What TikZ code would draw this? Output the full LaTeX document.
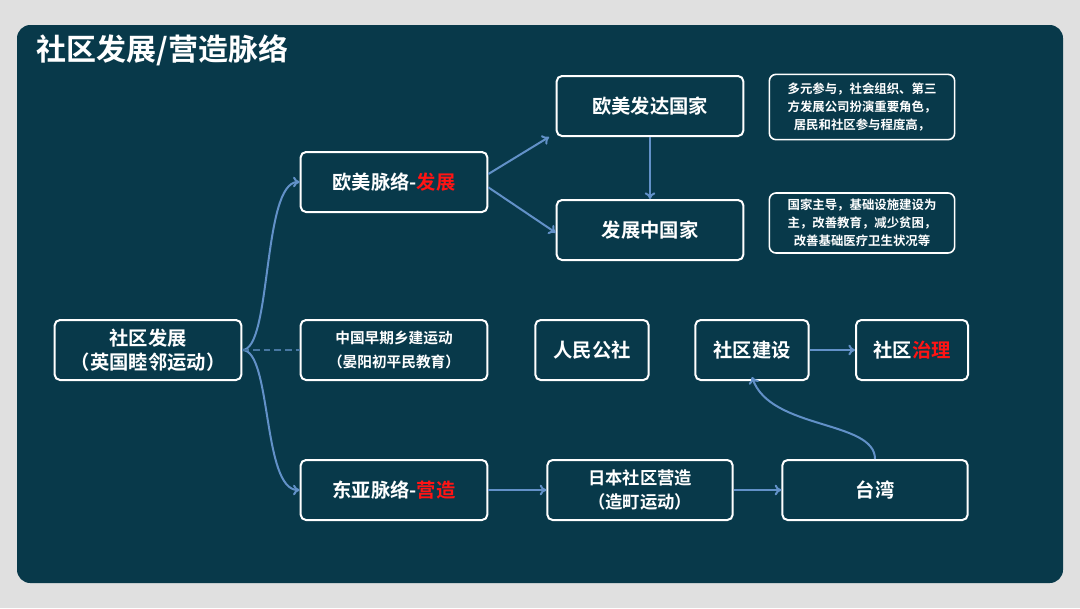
\documentclass[tikz,border=0pt]{standalone}
\usepackage{fontspec}
\setmainfont{Noto Sans CJK SC}[BoldFont={Noto Sans CJK SC Bold}]
\usetikzlibrary{arrows.meta}
\definecolor{panel}{RGB}{8,57,74}
\definecolor{outer}{RGB}{224,224,224}
\definecolor{link}{RGB}{98,145,200}
\definecolor{hot}{RGB}{255,20,20}
\tikzset{every picture/.style={line width=0.75pt}}
\tikzset{
  box/.style={draw=white,line width=1.5pt,rounded corners=4pt,text=white,font=\bfseries\fontsize{14.5}{18}\selectfont,align=center,inner sep=0pt},
  note/.style={draw=white,line width=1.2pt,rounded corners=5pt,text=white,font=\bfseries\fontsize{9.3}{13.5}\selectfont,align=center,inner sep=0pt},
  link/.style={draw=link,line width=1.5pt,-{To[length=5pt,width=8pt]}}
}
\begin{document}
\begin{tikzpicture}[x=0.75pt,y=0.75pt,yscale=-1,xscale=1]
%background
\fill [outer] (0,0) rectangle (1080,608);
\useasboundingbox (0,0) rectangle (1080,608);
\fill [panel,rounded corners=10pt] (17,25) rectangle (1063,583);
% Title
\node (title) [anchor=west,text=white,font=\bfseries\fontsize{22.5}{26}\selectfont] at (32,50) {社区发展/营造脉络};
% Boxes
\node (root) [box,minimum width=140pt,minimum height=45pt] at (148,350) {社区发展\\（英国睦邻运动）};
\node (oumei) [box,minimum width=140pt,minimum height=45pt] at (394,182) {欧美脉络-\textcolor{hot}{发展}};
\node (xiang) [box,minimum width=140pt,minimum height=45pt,font=\bfseries\fontsize{11}{18}\selectfont] at (394,350) {中国早期乡建运动\\（晏阳初平民教育）};
\node (dongya) [box,minimum width=140pt,minimum height=45pt] at (394,490) {东亚脉络-\textcolor{hot}{营造}};
\node (fada) [box,minimum width=140pt,minimum height=45pt] at (650,106) {欧美发达国家};
\node (fazhan) [box,minimum width=140pt,minimum height=45pt] at (650,230) {发展中国家};
\node (renmin) [box,minimum width=85pt,minimum height=45pt] at (592,350) {人民公社};
\node (jianshe) [box,minimum width=85pt,minimum height=45pt] at (752,350) {社区建设};
\node (zhili) [box,minimum width=84pt,minimum height=45pt] at (912,350) {社区\textcolor{hot}{治理}};
\node (riben) [box,minimum width=139pt,minimum height=45pt,font=\bfseries\fontsize{13}{18}\selectfont] at (640,490) {日本社区营造\\（造町运动）};
\node (taiwan) [box,minimum width=139pt,minimum height=45pt] at (875,490) {台湾};
% Notes
\node (note1) [note,minimum width=139pt,minimum height=49pt] at (862,107) {多元参与，社会组织、第三\\方发展公司扮演重要角色，\\居民和社区参与程度高，};
\node (note2) [note,minimum width=139pt,minimum height=45pt] at (862,223) {国家主导，基础设施建设为\\主，改善教育，减少贫困，\\改善基础医疗卫生状况等};
% Connectors
\draw [link] (root.east) .. controls (272,350) and (262,182) .. (oumei.west);
\draw [link] (root.east) .. controls (272,350) and (262,490) .. (dongya.west);
\draw [draw=link!70!panel,line width=1.5pt,dash pattern=on 5pt off 3pt] (root.east) -- (xiang.west);
\draw [link] ([yshift=-6pt]oumei.east) -- ([xshift=-5pt]fada.south west);
\draw [link] ([yshift=4pt]oumei.east) -- ([yshift=2pt]fazhan.west);
\draw [link] (fada.south) -- (fazhan.north);
\draw [link] (dongya.east) -- (riben.west);
\draw [link] (riben.east) -- (taiwan.west);
\draw [link] (jianshe.east) -- (zhili.west);
\draw [link] (taiwan.north) .. controls (875,420) and (770,430) .. ([yshift=-3pt]jianshe.south);
\end{tikzpicture}
\end{document}
